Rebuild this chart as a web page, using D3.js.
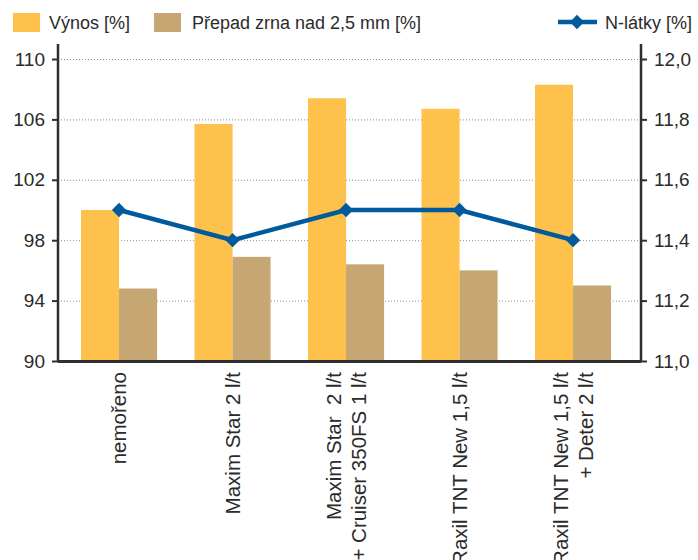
<!DOCTYPE html>
<html>
<head>
<meta charset="utf-8">
<script src="https://cdn.jsdelivr.net/npm/d3@7.9.0/dist/d3.min.js"></script>
<style>
  html, body { margin: 0; padding: 0; background: #fff; }
  svg { display: block; font-family: "Liberation Sans", Arial, sans-serif; }
</style>
</head>
<body>
<div id="chart"></div>
<script>
// ---------------- data ----------------
const categories = [
  ["nemořeno"],
  ["Maxim Star 2 l/t"],
  ["Maxim Star  2 l/t", "+ Cruiser 350FS 1 l/t"],
  ["Raxil TNT New 1,5 l/t"],
  ["Raxil TNT New 1,5 l/t", "+ Deter 2 l/t"]
];
const vynos = [100, 105.7, 107.4, 106.7, 108.3];
const prepad = [94.8, 96.9, 96.4, 96.0, 95.0];
const nLatky = [11.5, 11.4, 11.5, 11.5, 11.4];
const leftTicks = [90, 94, 98, 102, 106, 110];
const rightTicks = [11.0, 11.2, 11.4, 11.6, 11.8, 12.0];
const legendLabels = ["Výnos [%]", "Přepad zrna nad 2,5 mm [%]", "N-látky [%]"];

const colors = { vynos: "#fdc14c", prepad: "#c6a673", line: "#015a9c", axis: "#2f2f2f", text: "#2b2b2b" };

// ---------------- layout ----------------
const W = 698, H = 560;
const mLeft = 58, mRight = 641, mTop = 59, mBottom = 361;

const svg = d3.select("#chart").append("svg")
  .attr("width", W).attr("height", H);

const ids = categories.map((c, i) => i);
const x = d3.scaleBand().domain(ids).range([62.3, 629.8]).paddingInner(0.33).paddingOuter(0.165);
const sub = d3.scaleBand().domain(["vynos", "prepad"]).range([0, x.bandwidth()]);
const yL = d3.scaleLinear().domain([90, 110]).range([mBottom, mTop]);
const yR = d3.scaleLinear().domain([11, 12]).range([mBottom, mTop]);

// gridlines
svg.append("g").selectAll("line").data(leftTicks.filter(t => t > 90)).enter().append("line")
  .attr("x1", mLeft).attr("x2", mRight)
  .attr("y1", d => yL(d) + 0.5).attr("y2", d => yL(d) + 0.5)
  .attr("stroke", "#8a8a8a").attr("stroke-width", 1).attr("stroke-dasharray", "1,2");

// bars
const groups = svg.append("g").selectAll("g").data(ids).enter().append("g")
  .attr("transform", i => `translate(${x(i)},0)`);

groups.append("rect")
  .attr("x", sub("vynos")).attr("width", sub.bandwidth())
  .attr("y", i => yL(vynos[i])).attr("height", i => yL(90) - yL(vynos[i]))
  .attr("fill", colors.vynos);

groups.append("rect")
  .attr("x", sub("prepad")).attr("width", sub.bandwidth())
  .attr("y", i => yL(prepad[i])).attr("height", i => yL(90) - yL(prepad[i]))
  .attr("fill", colors.prepad);

// N-látky line
const cx = i => x(i) + x.bandwidth() / 2;
svg.append("path")
  .datum(ids)
  .attr("fill", "none").attr("stroke", colors.line).attr("stroke-width", 4.5)
  .attr("d", d3.line().x(cx).y(i => yR(nLatky[i])));

const diamond = d3.symbol().type(d3.symbolDiamond2).size(130);
svg.append("g").selectAll("path").data(ids).enter().append("path")
  .attr("d", diamond)
  .attr("transform", i => `translate(${cx(i)},${yR(nLatky[i])})`)
  .attr("fill", colors.line);

// axes
const axL = svg.append("g").attr("transform", `translate(${mLeft},0)`)
  .call(d3.axisLeft(yL).tickValues(leftTicks).tickSize(6).tickPadding(7));
const axR = svg.append("g").attr("transform", `translate(${mRight},0)`)
  .call(d3.axisRight(yR).tickValues(rightTicks).tickSize(6).tickPadding(7)
    .tickFormat(d => d.toFixed(1).replace(".", ",")));

[axL, axR].forEach(ax => {
  ax.select(".domain").remove();
  ax.selectAll(".tick line").attr("stroke", colors.axis).attr("stroke-width", 2);
  ax.selectAll(".tick text").attr("font-size", "19px").attr("fill", colors.text)
    .attr("font-family", "'Liberation Sans', Arial, sans-serif");
});

// axis lines
svg.append("line").attr("x1", mLeft).attr("x2", mLeft).attr("y1", 44).attr("y2", mBottom + 1)
  .attr("stroke", colors.axis).attr("stroke-width", 2.5);
svg.append("line").attr("x1", mRight).attr("x2", mRight).attr("y1", 44).attr("y2", mBottom + 1)
  .attr("stroke", colors.axis).attr("stroke-width", 2.5);
svg.append("line").attr("x1", mLeft).attr("x2", mRight).attr("y1", mBottom + 0.5).attr("y2", mBottom + 0.5)
  .attr("stroke", colors.axis).attr("stroke-width", 3);

// category labels (rotated)
const lab = svg.append("g").selectAll("text").data(ids).enter().append("text")
  .attr("transform", i => `translate(${cx(i)},${mBottom + 11}) rotate(-90)`)
  .attr("text-anchor", "end")
  .attr("font-size", "20.5px")
  .attr("fill", colors.text);

lab.each(function(i) {
  const lines = categories[i];
  const t = d3.select(this);
  lines.forEach((s, k) => {
    const off = (k - (lines.length - 1) / 2) * 1.2 + 0.35;
    t.append("tspan").attr("x", 0).attr("dy", k === 0 ? `${off}em` : "1.2em")
      .style("white-space", "pre").text(s);
  });
});

// legend
const leg = svg.append("g").attr("font-size", "18px").attr("fill", colors.text);
leg.append("rect").attr("x", 13).attr("y", 13).attr("width", 27).attr("height", 19).attr("fill", colors.vynos);
leg.append("text").attr("x", 49).attr("y", 29).text(legendLabels[0]);
leg.append("rect").attr("x", 154).attr("y", 13).attr("width", 27).attr("height", 19).attr("fill", colors.prepad);
leg.append("text").attr("x", 192).attr("y", 29).text(legendLabels[1]);
leg.append("line").attr("x1", 558).attr("x2", 597).attr("y1", 22).attr("y2", 22)
  .attr("stroke", colors.line).attr("stroke-width", 4.5);
leg.append("path").attr("d", diamond).attr("transform", "translate(577,22)").attr("fill", colors.line);
leg.append("text").attr("x", 605).attr("y", 29).text(legendLabels[2]);
</script>
</body>
</html>
